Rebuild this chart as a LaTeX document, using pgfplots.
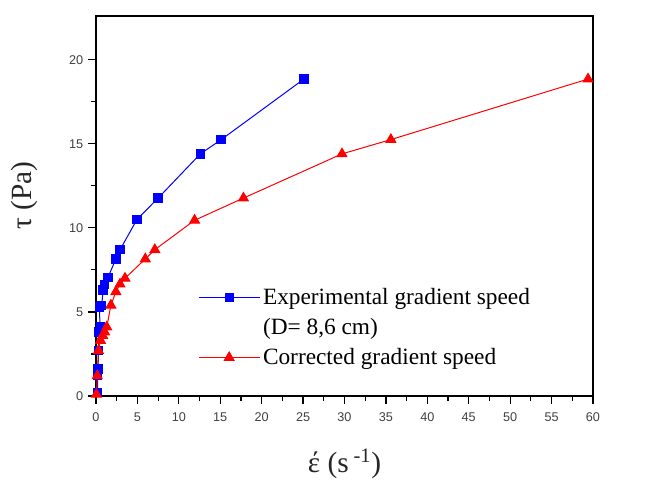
\documentclass[border=0pt]{standalone}
\usepackage{fontspec}
\setmainfont{Liberation Serif}
\setsansfont{Liberation Sans}
\usepackage{pgfplots}
\pgfplotsset{compat=1.18}

% experimental gradient speed (D = 8,6 cm)
\pgfplotstableread{
x y
0.20 0.20
0.20 1.20
0.25 1.60
0.30 2.70
0.35 3.80
0.50 4.10
0.40 5.30
0.70 5.40
0.85 6.30
1.05 6.65
1.45 7.06
2.40 8.15
2.90 8.70
4.95 10.50
7.50 11.77
12.60 14.40
15.10 15.24
25.10 18.85
}\experimental

% corrected gradient speed
\pgfplotstableread{
x y
0.05 0.10
0.15 1.20
0.30 2.70
0.55 3.30
0.80 3.60
1.05 3.80
1.30 4.10
1.80 5.40
2.40 6.20
2.90 6.65
3.50 7.00
5.95 8.15
7.10 8.70
11.90 10.45
17.80 11.77
29.70 14.40
35.60 15.25
59.40 18.85
}\corrected

\begin{document}
\begin{tikzpicture}
\path[use as bounding box] (-72pt,-64.5pt) rectangle (413.25pt,297pt);
\begin{axis}[
  at={(0,0)}, anchor=south west,
  scale only axis, width=372.75pt, height=285pt,
  xmin=0, xmax=60, ymin=0, ymax=22.6,
  xtick={0,5,...,60}, ytick={0,5,...,20},
  minor x tick num=1, minor y tick num=1,
  tick pos=left, tick align=outside,
  major tick length=6pt, minor tick length=3.5pt,
  axis line style={line width=1.1pt},
  tick style={line width=0.9pt, black},
  /pgf/number format/assume math mode=true,
  tick label style={font=\sffamily\fontsize{9.5}{10}\selectfont, text=black!75},
  xticklabel style={yshift=-3pt},
  xlabel={έ (s\,\textsuperscript{-1})},
  ylabel={τ (Pa)},
  label style={font=\fontsize{22}{26}\selectfont, text=black!85},
  xlabel style={at={(axis description cs:0.5,-0.179)}, anchor=center},
  ylabel style={at={(axis description cs:-0.144,0.528)}, anchor=center},
  legend style={draw=none, fill=none, at={(axis cs:11.8,6.75)}, anchor=north west,
    font=\fontsize{17.5}{20}\selectfont, row sep=5pt},
  legend cell align=left,
  legend image code/.code={\draw[mark repeat=2, mark phase=2]
    plot coordinates {(0pt,0pt) (23pt,0pt) (46pt,0pt)};},
]
\addplot[blue, line width=0.75pt, mark=square*, mark size=3.1pt] table[x=x, y=y] {\experimental};
\addlegendentry{Experimental gradient speed}
\addlegendimage{empty legend}
\addlegendentry{(D= 8,6 cm)}
\addplot[red, line width=0.75pt, mark=triangle*, mark size=4.2pt] table[x=x, y=y] {\corrected};
\addlegendentry{Corrected gradient speed}
\end{axis}
\end{tikzpicture}
\end{document}
